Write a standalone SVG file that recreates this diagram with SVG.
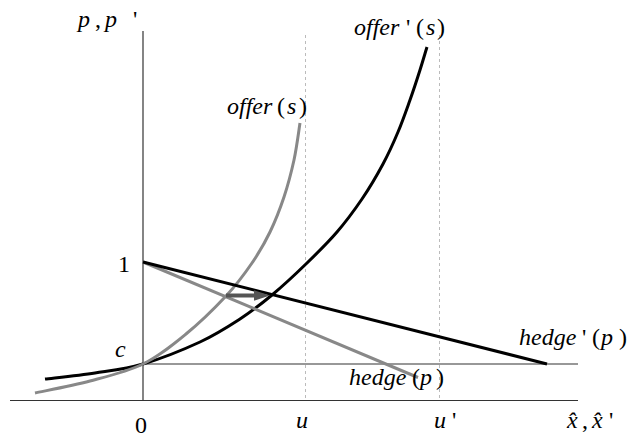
<svg xmlns="http://www.w3.org/2000/svg" width="629" height="441" viewBox="0 0 629 441">
<style>
.ax{stroke:#333;stroke-width:1.2;fill:none}
.guide{stroke:#bbb;stroke-width:1;stroke-dasharray:3 3;fill:none}
.blk{stroke:#000;stroke-width:3;fill:none;stroke-linecap:butt}
.gry{stroke:#888;stroke-width:3;fill:none;stroke-linecap:butt}
.it{font-style:italic}
.up{font-style:normal}
</style>
<defs>
<marker id="ah" markerWidth="4" markerHeight="3" refX="0.5" refY="1.5" orient="auto" markerUnits="strokeWidth">
<path d="M0,0.2 L4,1.5 L0,2.8 Z" fill="#555"/>
</marker>
</defs>
<rect width="629" height="441" fill="#fff"/>
<g id="guides">
<line class="guide" x1="305.5" y1="35" x2="305.5" y2="400"/>
<line class="guide" x1="439.5" y1="35" x2="439.5" y2="400"/>
</g>
<g id="axes">
<line class="ax" x1="10" y1="400.5" x2="578" y2="400.5"/>
<line class="ax" x1="143" y1="31" x2="143" y2="400.5"/>
<line class="ax" x1="143" y1="364" x2="578" y2="364"/>
</g>
<g id="connectors">
<path id="offer-prime" class="blk" d="M45,379 C53.3,378 78.7,375.5 95,373 C111.3,370.5 125.5,369.2 143,364 C160.5,358.8 183.8,349.5 200,342 C216.2,334.5 228,326.8 240,319 C252,311.2 260.8,304.3 272,295 C283.2,285.7 296.2,273.5 307,263 C317.8,252.5 327.8,242.7 337,232 C346.2,221.3 354.3,210.3 362,199 C369.7,187.7 377,175.2 383,164 C389,152.8 393.5,142.7 398,132 C402.5,121.3 406.3,110.3 410,100 C413.7,89.7 417.2,78.8 420,70 C422.8,61.2 425.8,50.8 427,47"/>
<path id="offer" class="gry" d="M35,393 C44.2,391 72,385.8 90,381 C108,376.2 127,371.8 143,364 C159,356.2 172.2,345.3 186,334 C199.8,322.7 215,307.8 226,296 C237,284.2 244.7,273.7 252,263 C259.3,252.3 264.7,243 270,232 C275.3,221 280,209 284,197 C288,185 291.3,172.3 294,160 C296.7,147.7 299,129.2 300,123"/>
<line id="hedge" class="gry" x1="143" y1="262" x2="418" y2="377.5"/>
<line id="hedge-prime" class="blk" x1="143" y1="262" x2="547" y2="364"/>
<line id="shift-arrow" x1="226" y1="295.5" x2="256" y2="295.5" stroke="#555" stroke-width="4" marker-end="url(#ah)"/>
</g>
<g id="labels" font-family="Liberation Serif, Times New Roman, serif" font-size="24" fill="#000">
<text class="it" x="78" y="27">p<tspan class="up" x="95">,</tspan><tspan x="105">p</tspan><tspan class="up" x="133">'</tspan></text>
<text class="it" x="354" y="35">offer<tspan class="up" x="406">'</tspan><tspan class="up" x="416">(</tspan><tspan x="426">s</tspan><tspan class="up" x="437">)</tspan></text>
<text class="it" x="227" y="114">offer<tspan class="up" x="277">(</tspan><tspan x="287">s</tspan><tspan class="up" x="299">)</tspan></text>
<text class="it" x="519" y="345">hedge<tspan class="up" x="582">'</tspan><tspan class="up" x="592">(</tspan><tspan x="601">p</tspan><tspan class="up" x="619">)</tspan></text>
<text class="it" x="349" y="385">hedge<tspan class="up" x="412">(</tspan><tspan x="420">p</tspan><tspan class="up" x="436">)</tspan></text>
<text class="up" x="118" y="272">1</text>
<text class="it" x="115" y="357">c</text>
<text class="up" x="135" y="433">0</text>
<text class="it" x="296" y="428">u</text>
<text class="it" x="434" y="428">u<tspan class="up" x="452">'</tspan></text>
<text class="it" x="567" y="428">x̂<tspan class="up" x="582">,</tspan><tspan x="592">x̂</tspan><tspan class="up" x="609">'</tspan></text>
</g>
</svg>
